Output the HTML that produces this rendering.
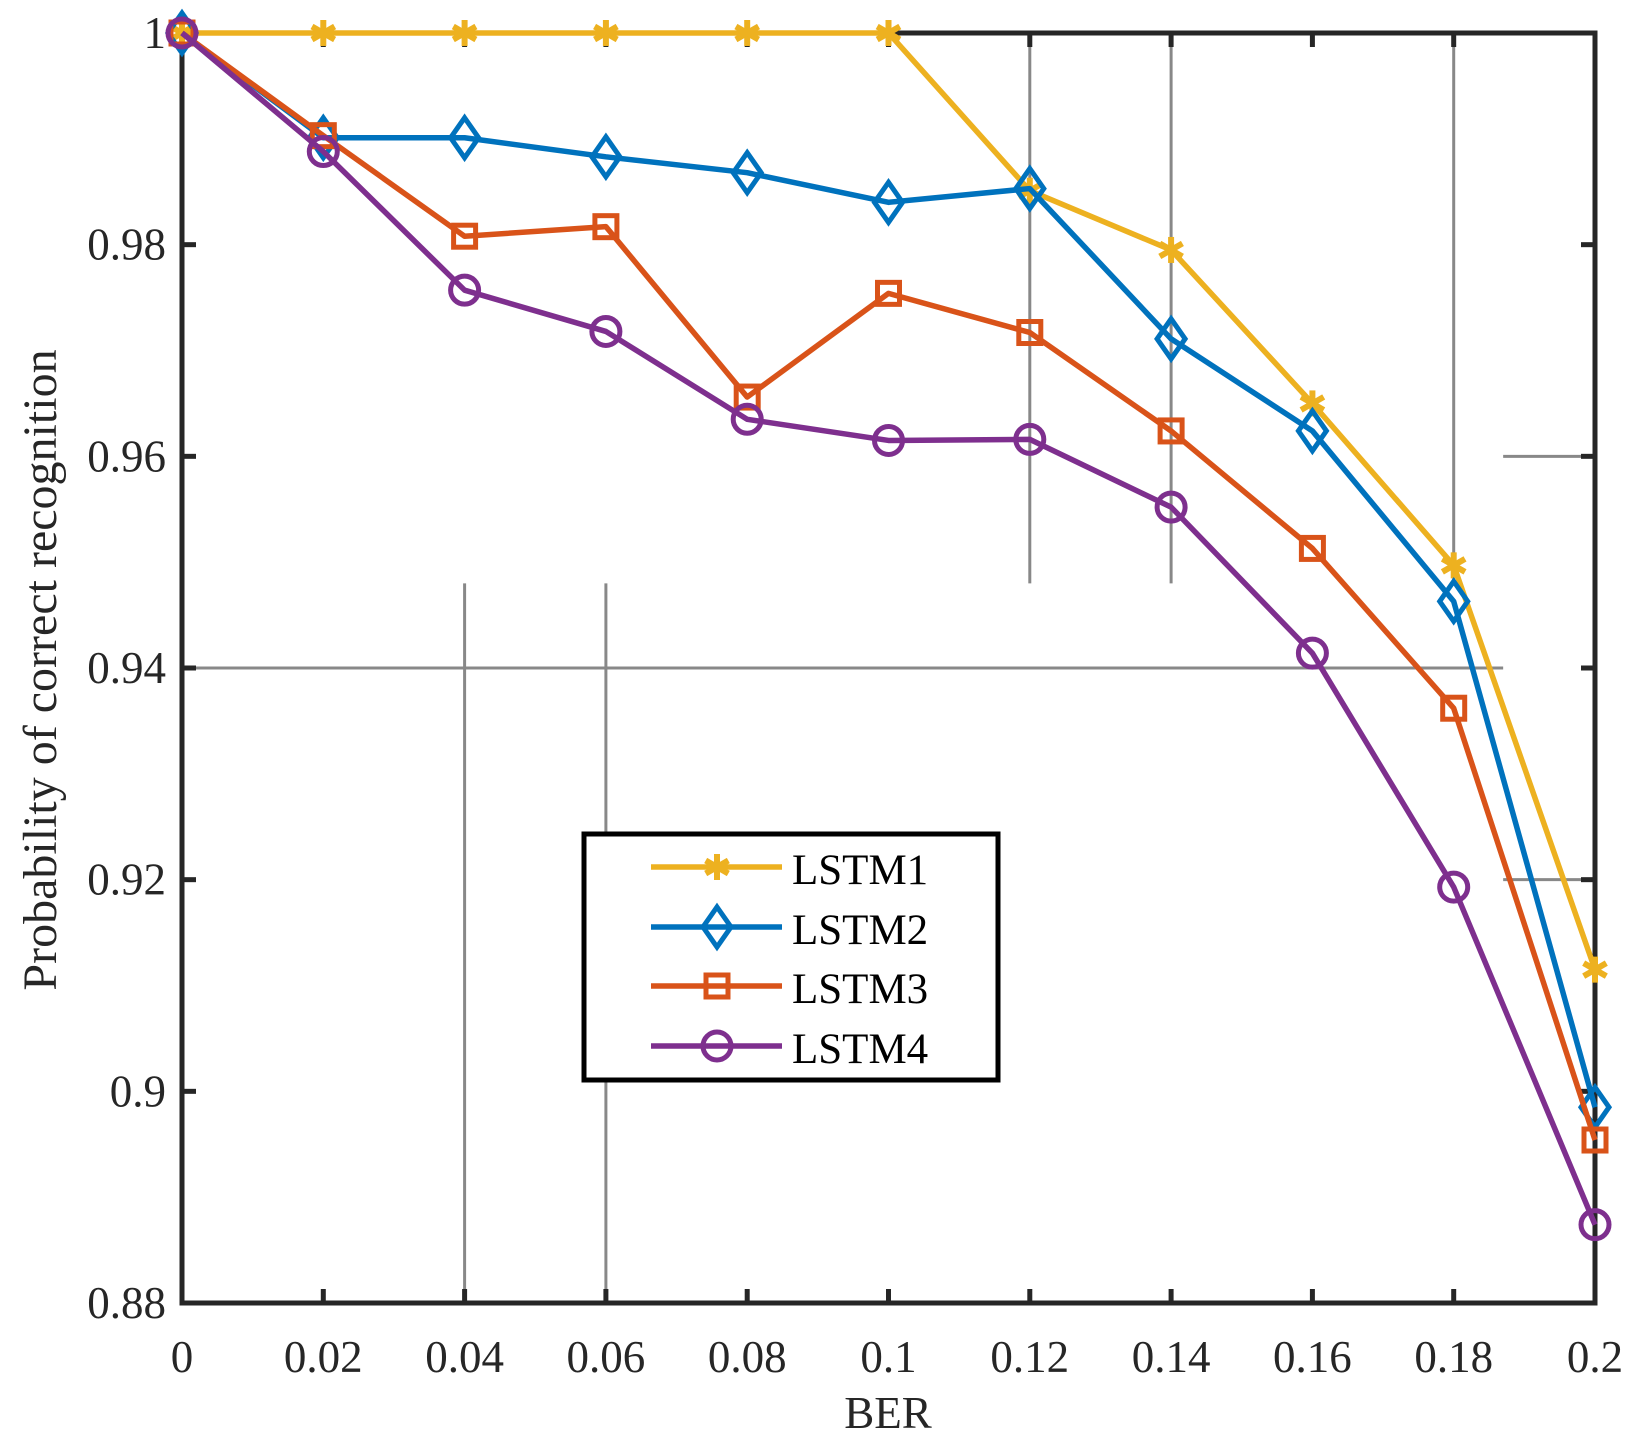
<!DOCTYPE html>
<html><head><meta charset="utf-8"><style>
html,body{margin:0;padding:0;background:#fff;}
svg{display:block;}
svg text{font-family:"Liberation Serif","Times New Roman",Times,serif;}
</style></head><body>
<svg id="chart" width="1644" height="1441" viewBox="0 0 1644 1441" font-family="Liberation Serif, serif">
<g id="grid" stroke="#888" stroke-width="3">
</g>
<g id="axes"></g>
<g id="series"></g>
<text x="888" y="1428" font-size="45" text-anchor="middle" fill="#262626">BER</text>
<text transform="translate(56,670) rotate(-90)" font-size="48" text-anchor="middle" fill="#262626">Probability of correct recognition</text>
<g id="legend"></g>
</svg>
<script>
const xCats=[0,0.02,0.04,0.06,0.08,0.1,0.12,0.14,0.16,0.18,0.2];
const xTickLabels=["0","0.02","0.04","0.06","0.08","0.1","0.12","0.14","0.16","0.18","0.2"];
const yTicks=[0.88,0.9,0.92,0.94,0.96,0.98,1];
const yTickLabels=["0.88","0.9","0.92","0.94","0.96","0.98","1"];
const seriesNames=["LSTM1","LSTM2","LSTM3","LSTM4"];
const lstm1=[1,1,1,1,1,1,0.9851,0.9795,0.965,0.9497,0.9115];
const lstm2=[1,0.9901,0.9901,0.9883,0.9868,0.984,0.9853,0.9711,0.9624,0.9463,0.8985];
const lstm3=[1,0.9903,0.9808,0.9817,0.9656,0.9754,0.9717,0.9624,0.9513,0.9362,0.8954];
const lstm4=[1,0.9888,0.9757,0.9718,0.9635,0.9615,0.9616,0.9552,0.9414,0.9193,0.8874];

const L=182,R=1595,T=33,B=1303;
const xS=v=>L+(v-0)/(0.2)*(R-L);
const yS=v=>B-(v-0.88)/(0.12)*(B-T);
const NS="http://www.w3.org/2000/svg";
function mk(tag,attrs,parent){const e=document.createElementNS(NS,tag);for(const k in attrs)e.setAttribute(k,attrs[k]);parent.appendChild(e);return e;}
const grid=document.getElementById('grid'),axes=document.getElementById('axes'),sg=document.getElementById('series'),lg=document.getElementById('legend');

[[0.04,0.948,0.88],[0.06,0.948,0.88],[0.12,1,0.948],[0.14,1,0.948],[0.18,1,0.948]].forEach(g=>{
 const l=mk('line',{x1:xS(g[0]),x2:xS(g[0]),y1:yS(g[1]),y2:yS(g[2])},grid);
 
 
});
[[0.94,0,0.187],[0.96,0.187,0.2],[0.92,0.187,0.2]].forEach(g=>{
 const l=mk('line',{x1:xS(g[1]),x2:xS(g[2]),y1:yS(g[0]),y2:yS(g[0])},grid);
 
 
});

const box=mk('rect',{x:L,y:T,width:R-L,height:B-T,fill:'none',stroke:'#262626','stroke-width':5},axes);


xCats.forEach((v,i)=>{
 const x=xS(v);
 mk('line',{x1:x,x2:x,y1:B,y2:B-14,stroke:'#262626','stroke-width':5},axes);
 mk('line',{x1:x,x2:x,y1:T,y2:T+14,stroke:'#262626','stroke-width':5},axes);
 const t=mk('text',{x:x,y:1372,'font-size':45,'text-anchor':'middle',fill:'#262626'},axes);
 t.textContent=xTickLabels[i];
 
 
});
yTicks.forEach((v,i)=>{
 const y=yS(v);
 mk('line',{x1:L,x2:L+14,y1:y,y2:y,stroke:'#262626','stroke-width':5},axes);
 mk('line',{x1:R,x2:R-14,y1:y,y2:y,stroke:'#262626','stroke-width':5},axes);
 const t=mk('text',{x:L-16,y:y+15,'font-size':45,'text-anchor':'end',fill:'#262626'},axes);
 t.textContent=yTickLabels[i];
 
 
});

const colors=["#EDB120","#0072BD","#D95319","#7E2F8E"];
const markers=["star","diamond","square","circle"];
function marker(type,x,y,c,p){
 const sw=5;
 if(type==='star'){
  const g=mk('g',{stroke:c,'stroke-width':6},p);
  const r=13;
  mk('line',{x1:x,x2:x,y1:y-r,y2:y+r},g);
  mk('line',{x1:x-r*0.87,x2:x+r*0.87,y1:y-r*0.5,y2:y+r*0.5},g);
  mk('line',{x1:x-r*0.87,x2:x+r*0.87,y1:y+r*0.5,y2:y-r*0.5},g);
  return g;
 }
 if(type==='diamond')return mk('polygon',{points:`${x},${y-20} ${x+14},${y} ${x},${y+20} ${x-14},${y}`,fill:'none',stroke:c,'stroke-width':sw},p);
 if(type==='square')return mk('rect',{x:x-11,y:y-11,width:22,height:22,fill:'none',stroke:c,'stroke-width':sw},p);
 return mk('circle',{cx:x,cy:y,r:14,fill:'none',stroke:c,'stroke-width':sw},p);
}
[lstm1,lstm2,lstm3,lstm4].forEach((s,k)=>{
 const g=mk('g',{},sg);
 
 
 const pl=mk('polyline',{points:s.map((v,i)=>xS(xCats[i])+','+yS(v)).join(' '),fill:'none',stroke:colors[k],'stroke-width':5.5,'stroke-linejoin':'round'},g);
 
 
 s.forEach((v,i)=>{
  const m=marker(markers[k],xS(xCats[i]),yS(v),colors[k],g);
  
  
 });
});

const lb=mk('rect',{x:584,y:834,width:414,height:246,fill:'#fff',stroke:'#000','stroke-width':5},lg);


const ly=[867,927,986,1046];
seriesNames.forEach((n,k)=>{
 const g=mk('g',{},lg);
 
 
 mk('line',{x1:651,x2:782,y1:ly[k],y2:ly[k],stroke:colors[k],'stroke-width':5.5},g);
 marker(markers[k],717,ly[k],colors[k],g);
 const t=mk('text',{x:792,y:ly[k]+17,'font-size':43,fill:'#000'},g);
 t.textContent=n;
});
</script>
</body></html>
